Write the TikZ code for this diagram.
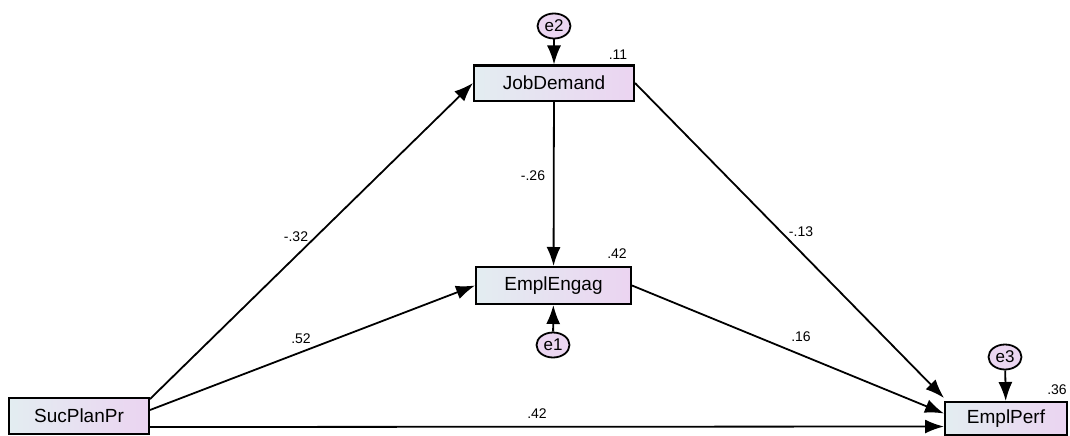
\documentclass[tikz,border=0pt]{standalone}
\usepackage{fontspec}
\setmainfont{Liberation Sans}
\usetikzlibrary{arrows.meta,shapes.geometric,calc}
\definecolor{boxleft}{HTML}{E3EDF1}
\definecolor{boxright}{HTML}{EBD4F1}
\definecolor{errfill}{HTML}{EBD6F1}
\begin{document}
\begin{tikzpicture}[x=1pt,y=-1pt,
  varbox/.style={draw=black,line width=2pt,left color=boxleft,right color=boxright,
    inner sep=0pt,font=\fontsize{19}{19}\selectfont},
  errnode/.style={ellipse,draw=black,line width=1.8pt,fill=errfill,minimum width=33pt,
    minimum height=25pt,inner sep=0pt,font=\fontsize{17}{17}\selectfont},
  path/.style={draw=black,line width=1.8pt,-{Latex[length=19pt,width=14pt]}},
  coef/.style={font=\fontsize{14}{14}\selectfont,inner sep=0pt}]
\useasboundingbox (0,0) rectangle (1070,436);
\node[varbox,minimum width=160pt,minimum height=35pt] (jd) at (554,83) {JobDemand};
\node[varbox,minimum width=155pt,minimum height=37pt] (ee) at (553.5,285.5) {EmplEngag};
\node[varbox,minimum width=140pt,minimum height=36pt] (spp) at (79,416) {SucPlanPr};
\node[varbox,minimum width=122pt,minimum height=33pt] (ep) at (1006,418.5) {EmplPerf};
\node[errnode] (e2) at (554,26) {e2};
\node[errnode] (e1) at (553,345) {e1};
\node[errnode] (e3) at (1005,357) {e3};
\coordinate (s1) at ($(spp.north east)+(0,2)$);
\coordinate (s2) at ($(spp.east)+(0,-6)$);
\coordinate (s3) at ($(spp.east)+(0,11)$);
\coordinate (t1) at ($(ep.north west)+(0,-3)$);
\coordinate (t2) at ($(ep.west)+(0,-5)$);
\coordinate (t3) at ($(ep.west)+(0,8)$);
\draw[path] (e2) -- (jd);
\draw[path] (e1) -- (ee);
\draw[path] (e3) -- (ep);
\draw[path] (s1) -- (jd.west);
\draw[path] (s2) -- (ee.west);
\draw[path] (s3) -- (t3);
\draw[path] (jd) -- (ee);
\draw[path] (jd.east) -- (t1);
\draw[path] (ee.east) -- (t2);
\node[coef] (r1) at (618,55) {.11};
\node[coef] (r2) at (617,254) {.42};
\node[coef] (r3) at (1057,390) {.36};
\node[coef] (c1) at (296,237) {-.32};
\node[coef] (c2) at (301,339) {.52};
\node[coef] (c3) at (537,414) {.42};
\node[coef] (c4) at (533,176) {-.26};
\node[coef] (c5) at (801,232) {-.13};
\node[coef] (c6) at (801,337) {.16};
\end{tikzpicture}
\end{document}
